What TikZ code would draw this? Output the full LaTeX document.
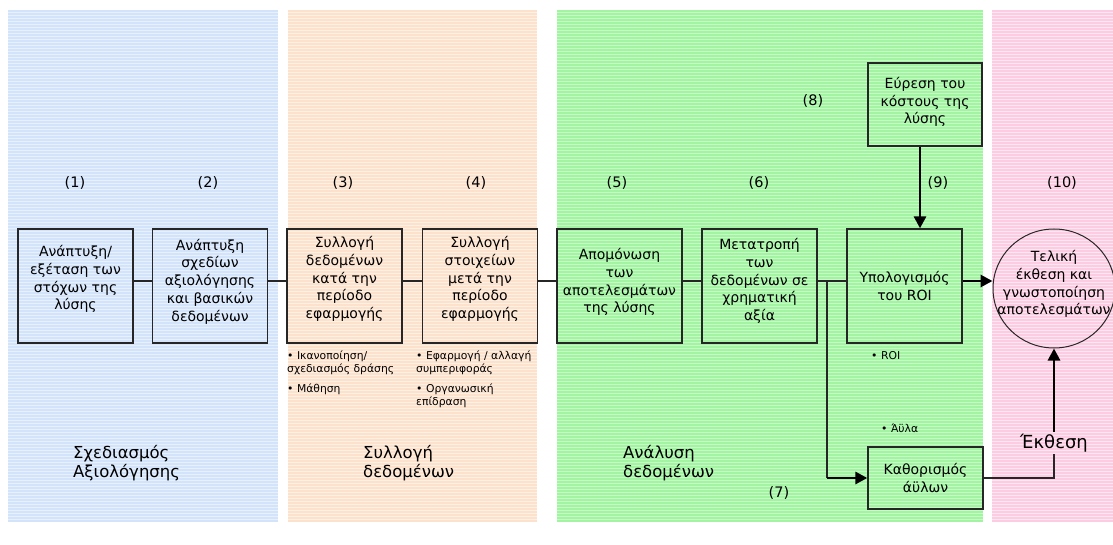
\documentclass[tikz,border=0pt]{standalone}
\usepackage{fontspec}
\setmainfont{DejaVu Sans}
\usetikzlibrary{arrows.meta,shapes.geometric}
\definecolor{bluebase}{HTML}{E6F0FE}
\definecolor{bluestripe}{HTML}{D2E3FA}
\definecolor{orbase}{HTML}{FFF0E4}
\definecolor{orstripe}{HTML}{FCE2CC}
\definecolor{grbase}{HTML}{C6FBC6}
\definecolor{grstripe}{HTML}{A2F4A2}
\definecolor{pkbase}{HTML}{FFE6F1}
\definecolor{pkstripe}{HTML}{FCCDE2}
\tikzset{
  box/.style={draw=black!85,line width=1.3pt,minimum width=115pt,minimum height=114pt,inner sep=0pt},
  btxt/.style={align=center,inner sep=0pt,font=\fontsize{14}{17.8}\selectfont},
  num/.style={inner sep=0pt,font=\fontsize{14.5}{16}\selectfont},
  bul/.style={anchor=north west,align=left,inner sep=0pt,font=\fontsize{10.8}{13}\selectfont},
  phase/.style={anchor=north west,align=left,inner sep=0pt,font=\fontsize{16.5}{19}\selectfont},
  conn/.style={draw=black!85,line width=1.5pt},
  thickarr/.style={draw=black,line width=2.8pt,-{Triangle[length=12pt,width=12pt]}},
}
\begin{document}
\begin{tikzpicture}[x=1pt,y=-1pt]
\useasboundingbox (0,0) rectangle (1113,545);
\fill[white] (0,0) rectangle (1113,545);
% panels
\fill[bluebase] (8,10) rectangle (278,522);
\foreach \yy in {11,14,...,521} \draw[bluestripe,line width=1.2pt] (8,\yy) -- (278,\yy);
\fill[orbase] (288,10) rectangle (537,522);
\foreach \yy in {11,14,...,521} \draw[orstripe,line width=1.2pt] (288,\yy) -- (537,\yy);
\fill[grbase] (557,10) rectangle (983,522);
\foreach \yy in {11,14,...,521} \draw[grstripe,line width=1.2pt] (557,\yy) -- (983,\yy);
\fill[pkbase] (992,10) rectangle (1113,522);
\foreach \yy in {11,14,...,521} \draw[pkstripe,line width=1.2pt] (992,\yy) -- (1113,\yy);

% boxes
\node[box] (b1) at (75.5,286) {};
\node[box] (b2) at (210,286) {};
\node[box] (b3) at (344.5,286) {};
\node[box] (b4) at (480,286) {};
\node[box,minimum width=125pt] (b5) at (619.5,286) {};
\node[box] (b6) at (759.5,286) {};
\node[box] (roi) at (904.5,286) {};
\node[box,minimum height=83pt,minimum width=114pt] (cost) at (925,104.5) {};
\node[box,minimum height=62pt,minimum width=115pt] (kath) at (925.5,478) {};
\node[draw=black!85,line width=1pt,ellipse,minimum width=122pt,minimum height=119pt,inner sep=0pt] (ell) at (1054,288.5) {};

% box texts
\node[btxt] (t1) at (75.5,279) {Ανάπτυξη/\\εξέταση των\\στόχων της\\λύσης};
\node[btxt] (t2) at (210,281.5) {Ανάπτυξη\\σχεδίων\\αξιολόγησης\\και βασικών\\δεδομένων};
\node[btxt] (t3) at (344.5,279) {Συλλογή\\δεδομένων\\κατά την\\περίοδο\\εφαρμογής};
\node[btxt] (t4) at (480,279) {Συλλογή\\στοιχείων\\μετά την\\περίοδο\\εφαρμογής};
\node[btxt] (t5) at (619.5,282) {Απομόνωση\\των\\αποτελεσμάτων\\της λύσης};
\node[btxt] (t6) at (759.5,281) {Μετατροπή\\των\\δεδομένων σε\\χρηματική\\αξία};
\node[btxt] (t7) at (904.5,286) {Υπολογισμός\\του ROI};
\node[btxt] (t8) at (925,102) {Εύρεση του\\κόστους της\\λύσης};
\node[btxt] (t9) at (925.5,478) {Καθορισμός\\άϋλων};
\node[btxt] (t10) at (1054,284) {Τελική\\έκθεση και\\γνωστοποίηση\\αποτελεσμάτων};

% numbers
\node[num] (n1) at (75,183) {(1)};
\node[num] (n2) at (208,183) {(2)};
\node[num] (n3) at (343,183) {(3)};
\node[num] (n4) at (476,183) {(4)};
\node[num] (n5) at (617,183) {(5)};
\node[num] (n6) at (759,183) {(6)};
\node[num] (n7) at (779,493) {(7)};
\node[num] (n8) at (813,100.5) {(8)};
\node[num] (n9) at (938,183) {(9)};
\node[num] (n10) at (1062,183) {(10)};

% bullets
\node[bul] (u3) at (287,351) {• Ικανοποίηση/\\σχεδιασμός δράσης\\[7pt]• Μάθηση};
\node[bul] (u4) at (416,351) {• Εφαρμογή / αλλαγή\\συμπεριφοράς\\[7pt]• Οργανωσική\\επίδραση};
\node[bul] (u7) at (871,351) {• ROI};
\node[bul] (u9) at (881,424) {• Άϋλα};

% phase labels
\node[phase] (p1) at (73,445) {Σχεδιασμός\\Αξιολόγησης};
\node[phase] (p2) at (363,445) {Συλλογή\\δεδομένων};
\node[phase] (p3) at (623,445) {Ανάλυση\\δεδομένων};

\node[inner sep=2pt,font=\fontsize{18}{20}\selectfont] (ek) at (1054,443) {Έκθεση};

% connectors
\draw[conn] ([yshift=5pt]b1.east) -- ([yshift=5pt]b2.west);
\draw[conn] ([yshift=5pt]b2.east) -- ([yshift=5pt]b3.west);
\draw[conn] ([yshift=5pt]b3.east) -- ([yshift=5pt]b4.west);
\draw[conn] ([yshift=5pt]b4.east) -- ([yshift=5pt]b5.west);
\draw[conn] ([yshift=5pt]b5.east) -- ([yshift=5pt]b6.west);
\draw[conn] ([yshift=5pt]b6.east) -- ([yshift=5pt]roi.west);
\coordinate (br) at (827,281);
\coordinate (c9) at (920,0);
\draw[conn] (br) -- (br |- kath.west);
\draw[thickarr] (br |- kath.west) -- (kath.west);
\draw[thickarr] (cost.south -| c9) -- (roi.north -| c9);
\draw[thickarr] ([yshift=5pt]roi.east) -- ([yshift=7.5pt]ell.west);
\draw[conn] (kath.east) -| (ek.south);
\draw[thickarr] (ek.north) -- (ell.south);
\end{tikzpicture}
\end{document}
